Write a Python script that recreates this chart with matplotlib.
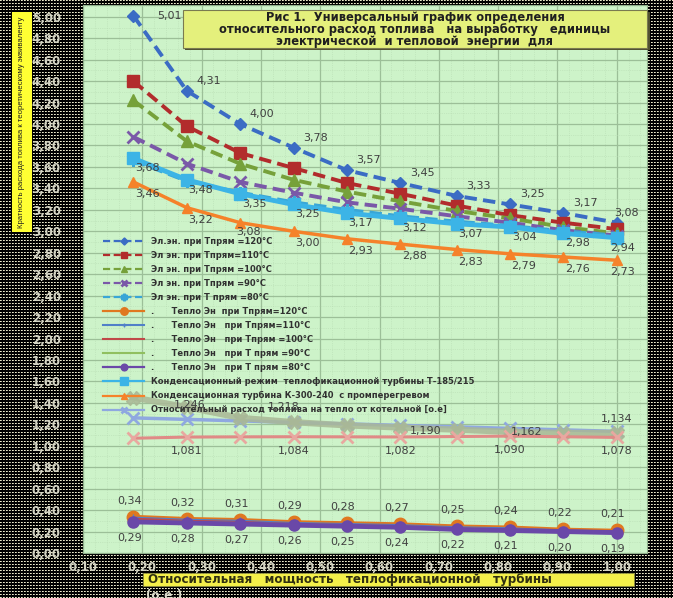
import numpy as np
import matplotlib
matplotlib.use('Agg')
import matplotlib.pyplot as plt
from matplotlib.patches import Rectangle
from matplotlib.ticker import MultipleLocator, FuncFormatter

# данные
x = [0.185, 0.275, 0.365, 0.455, 0.545, 0.635, 0.73, 0.82, 0.91, 1.00]

el_120 = [5.01, 4.31, 4.00, 3.78, 3.57, 3.45, 3.33, 3.25, 3.17, 3.08]
el_110 = [4.40, 3.98, 3.73, 3.59, 3.45, 3.35, 3.24, 3.15, 3.08, 3.02]
el_100 = [4.22, 3.84, 3.63, 3.48, 3.37, 3.28, 3.19, 3.12, 3.04, 2.98]
el_90 = [3.88, 3.63, 3.46, 3.36, 3.27, 3.21, 3.14, 3.08, 3.01, 2.96]
el_80 = [3.66, 3.47, 3.36, 3.27, 3.20, 3.14, 3.09, 3.05, 3.00, 2.96]

heat_120 = [0.34, 0.32, 0.31, 0.29, 0.28, 0.27, 0.25, 0.24, 0.22, 0.21]
heat_110 = [0.33, 0.31, 0.30, 0.28, 0.27, 0.26, 0.24, 0.23, 0.21, 0.20]
heat_100 = [0.32, 0.30, 0.29, 0.27, 0.26, 0.25, 0.23, 0.22, 0.21, 0.20]
heat_90 = [0.30, 0.29, 0.28, 0.27, 0.26, 0.25, 0.23, 0.22, 0.20, 0.19]
heat_80 = [0.29, 0.28, 0.27, 0.26, 0.25, 0.24, 0.22, 0.21, 0.20, 0.19]

cond_t185 = [3.68, 3.48, 3.35, 3.25, 3.17, 3.12, 3.07, 3.04, 2.98, 2.94]
cond_k300 = [3.46, 3.22, 3.08, 3.00, 2.93, 2.88, 2.83, 2.79, 2.76, 2.73]

boiler = [1.260, 1.246, 1.232, 1.218, 1.204, 1.190, 1.176, 1.162, 1.148, 1.134]
boiler_2 = [1.45, 1.36, 1.26, 1.22, 1.19, 1.17, 1.15, 1.13, 1.12, 1.12]
boiler_3 = [1.070, 1.081, 1.083, 1.084, 1.083, 1.082, 1.086, 1.090, 1.084, 1.078]

legend_labels = [
    'Эл.эн. при Тпрям =120°C',
    'Эл эн. при Тпрям=110°C',
    'Эл эн. при Тпрям =100°C',
    'Эл эн. при Тпрям =90°C',
    'Эл эн. при Т прям =80°C',
    '.      Тепло Эн  при Тпрям=120°C',
    '.      Тепло Эн   при Тпрям=110°C',
    '.      Тепло Эн   при Тпрям =100°C',
    '.      Тепло Эн   при Т прям =90°C',
    '.      Тепло Эн   при Т прям =80°C',
    'Конденсационный режим  теплофикационной турбины Т-185/215',
    'Конденсационная турбина К-300-240  с промперегревом',
    'Относительный расход топлива на тепло от котельной [о.е]',
]

title_lines = ['Рис 1.  Универсальный график определения',
               'относительного расход топлива   на выработку   единицы',
               'электрической  и тепловой  энергии  для']

W, H = 673, 598
fig = plt.figure(figsize=(W / 100, H / 100), dpi=100)
fig.patch.set_facecolor('black')

# точечный фон
pat = np.zeros((H, W, 3))
pat[::3, ::3] = [0.93, 0.92, 0.80]
pat[::3, 1::3] = [0.70, 0.70, 0.60]
fig.figimage(pat, xo=0, yo=0, origin='upper', zorder=-5)


def fx(px):
    return px / W


def fy(py):
    return 1 - py / H


ax = fig.add_axes([fx(83), fy(553), fx(647) - fx(83), fy(5) - fy(553)])
ax.set_zorder(1)
ax.set_facecolor('#cdf3c9')
ax.set_xlim(0.10, 1.051)
ax.set_ylim(0, 5.11)

ax.xaxis.set_major_locator(MultipleLocator(0.1))
ax.xaxis.set_minor_locator(MultipleLocator(0.02))
ax.yaxis.set_major_locator(MultipleLocator(0.2))
ax.yaxis.set_minor_locator(MultipleLocator(0.1))
ax.grid(which='major', color='#9cbf98', lw=0.9)
ax.grid(which='minor', color='#b8dcb3', lw=0.5, ls=':')
ax.set_axisbelow(True)
comma = FuncFormatter(lambda v, p: f'{v:.2f}'.replace('.', ','))
ax.xaxis.set_major_formatter(comma)
ax.yaxis.set_major_formatter(comma)
ax.tick_params(which='both', length=0)
ax.tick_params(axis='y', pad=16, labelsize=8.5, labelcolor='#d4d4c4')
ax.tick_params(axis='x', pad=6, labelsize=8.5, labelcolor='#d4d4c4')
for t in ax.get_xticklabels() + ax.get_yticklabels():
    t.set_fontweight('bold')
for s in ax.spines.values():
    s.set_color('#8faf8a')

dash = (0, (3.2, 1.6))
ax.plot(x, el_120, ls=dash, lw=2.8, color='#3b6cc4', marker='D', ms=6, label=legend_labels[0])
ax.plot(x, el_110, ls=dash, lw=2.8, color='#b22c2c', marker='s', ms=8, label=legend_labels[1])
ax.plot(x, el_100, ls=dash, lw=2.8, color='#76a13a', marker='^', ms=8, label=legend_labels[2])
ax.plot(x, el_90, ls=dash, lw=2.8, color='#7a58a8', marker='x', ms=8, mew=2, label=legend_labels[3])
ax.plot(x, el_80, ls=dash, lw=2.8, color='#3aa6d6', marker=(6, 2, 0), ms=9, mew=2, label=legend_labels[4])

ax.plot(x, heat_120, color='#e07820', lw=2.5, marker='o', ms=9, label=legend_labels[5])
ax.plot(x, heat_110, color='#5080c8', lw=1.5, marker='+', ms=6, label=legend_labels[6])
ax.plot(x, heat_100, color='#c04848', lw=1.5, label=legend_labels[7])
ax.plot(x, heat_90, color='#90c060', lw=1.5, label=legend_labels[8])
ax.plot(x, heat_80, color='#6a48a8', lw=3.5, marker='o', ms=8, label=legend_labels[9])

ax.plot(x, cond_t185, color='#3cb4e6', lw=3.5, marker='s', ms=9, label=legend_labels[10])
ax.plot(x, cond_k300, color='#f5822a', lw=2.5, marker='^', ms=7, label=legend_labels[11])
ax.plot(x, boiler, color='#8fa8e0', lw=2.5, marker='x', ms=8, mew=2, label=legend_labels[12])
ax.plot(x, boiler_2, color='#a9b896', lw=4.5, marker='X', ms=10, alpha=0.85)
ax.plot(x, boiler_3, color='#e08a86', lw=2.2, marker='x', ms=8, mew=2, mec='#e8a8a0')


def lab(v, nd=2):
    return f'{v:.{nd}f}'.replace('.', ',')


def put(xs, ys, dx, dy, idx=None, nd=2):
    for i, (a, b) in enumerate(zip(xs, ys)):
        if idx is not None and i not in idx:
            continue
        ox, oy = dx[i] if isinstance(dx, list) else dx, dy[i] if isinstance(dy, list) else dy
        ax.annotate(lab(b, nd), (a, b), xytext=(ox, oy), textcoords='offset pixels',
                    ha='center', va='center', fontsize=8, color='#404040', zorder=10)


put(x, el_120, [36] + [22] * 8 + [10], [0] + [10] * 9)
put(x, cond_t185, [14] * 9 + [6], -10)
put(x, cond_k300, [14, 14, 8] + [14] * 6 + [6], [-12, -12, -9] + [-12] * 7)
put(x, heat_120, -4, 16)
put(x, heat_80, -4, -16)
put(x, boiler, [0, 3, 0, -10, 0, 25, 0, 17, 0, 0], [0, 14, 0, 15, 0, -6, 0, -4, 0, 12],
    idx=[1, 3, 5, 7, 9], nd=3)
put(x, boiler_3, 0, -14, idx=[1, 3, 5, 7, 9], nd=3)

leg = ax.legend(loc='upper left', bbox_to_anchor=(0.035, 0.576), frameon=False,
                fontsize=6, handlelength=5, labelspacing=0.6, handletextpad=0.8,
                borderaxespad=0, borderpad=0, numpoints=1, markerscale=0.6)
for t in leg.get_texts():
    t.set_fontweight('bold')
    t.set_color('#303030')
for ln in leg.get_lines():
    ln.set_linewidth(min(ln.get_linewidth(), 1.6))

# заголовок
fig.patches.append(Rectangle((fx(185), fy(50)), fx(650) - fx(185), fy(12) - fy(50),
                             transform=fig.transFigure, facecolor='#505030', edgecolor='none', zorder=3))
fig.patches.append(Rectangle((fx(183), fy(48)), fx(647) - fx(183), fy(10) - fy(48),
                             transform=fig.transFigure, facecolor='#e4f07c', edgecolor='#7a7a50',
                             lw=0.8, zorder=4))
for i, line in enumerate(title_lines):
    fig.text(fx(415), fy(17 + 12.5 * i), line, ha='center', va='center', fontsize=8.3,
             fontweight='bold', color='#202020', zorder=5)

# подпись оси Y
fig.patches.append(Rectangle((fx(12), fy(232)), fx(32) - fx(12), fy(12) - fy(232),
                             transform=fig.transFigure, facecolor='#ffff33', edgecolor='none', zorder=3))
fig.text(fx(22), fy(122), 'Кратность расхода топлива к теоретическому эквиваленту',
         rotation=90, ha='center', va='center', fontsize=5.6, color='#202020',
         family=['Liberation Sans', 'DejaVu Sans'], zorder=5)

# подпись оси X
fig.patches.append(Rectangle((fx(143), fy(586)), fx(634) - fx(143), fy(573) - fy(586),
                             transform=fig.transFigure, facecolor='#f4f04a', edgecolor='#8a8a40',
                             lw=0.6, zorder=3))
fig.text(fx(148), fy(579.5), 'Относительная   мощность   теплофикационной   турбины',
         ha='left', va='center', fontsize=8.6, fontweight='bold', color='#303010', zorder=5)
fig.text(fx(146), fy(589), '(о.е.)', ha='left', va='top', fontsize=8.6,
         fontweight='bold', color='#dcdccc', zorder=5)

fig.savefig('out.png', dpi=100, facecolor=fig.get_facecolor())
